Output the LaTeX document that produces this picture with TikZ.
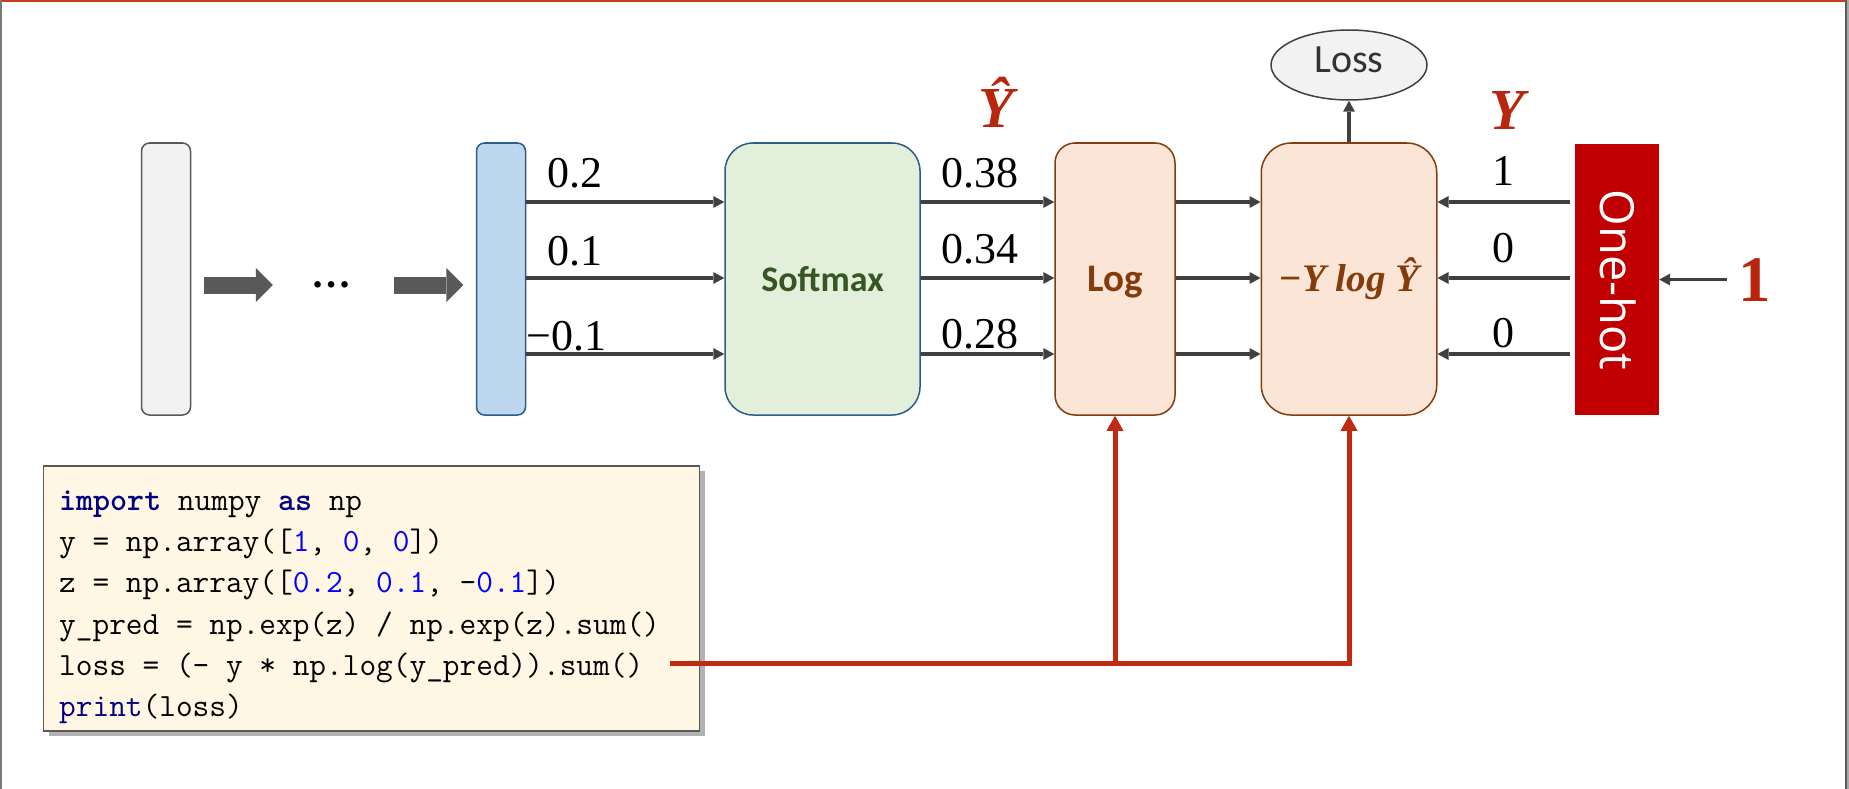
\documentclass[tikz,border=0pt]{standalone}
\usepackage{fontspec}
\usetikzlibrary{arrows.meta,shapes.geometric,shadows}
\newfontfamily\numfont{Liberation Serif}
\newfontfamily\calfont{Carlito}
\newfontfamily\ohfont{Open Sans}
\definecolor{grayfill}{HTML}{F2F2F2}
\definecolor{graydraw}{HTML}{595959}
\definecolor{bluefill}{HTML}{BDD7EE}
\definecolor{bluedraw}{HTML}{2E5C8A}
\definecolor{greenfill}{HTML}{E2EFDA}
\definecolor{greentext}{HTML}{375623}
\definecolor{peachfill}{HTML}{FBE5D6}
\definecolor{browndraw}{HTML}{843C0C}
\definecolor{arrgray}{HTML}{404040}
\definecolor{blockgray}{HTML}{595959}
\definecolor{ohred}{HTML}{C00000}
\definecolor{labred}{HTML}{B8260E}
\definecolor{linered}{HTML}{BE2A12}
\definecolor{codefill}{HTML}{FFF7E4}
\definecolor{kwnavy}{HTML}{000080}
\definecolor{numblue}{HTML}{0000FF}
\definecolor{losstext}{HTML}{333333}
\definecolor{framered}{HTML}{C8401E}
\begin{document}
\begin{tikzpicture}[x=1pt,y=-1pt,
  bar/.style={rectangle,rounded corners=8pt,minimum width=49pt,minimum height=272pt,inner sep=0pt,line width=1.5pt},
  bigbox/.style={rectangle,minimum height=272pt,inner sep=0pt,line width=1.5pt,text height=25pt,text depth=0pt},
  arr/.style={draw=arrgray,line width=3.5pt,-{Triangle[length=11pt,width=12pt,line width=0pt]}},
  blockarr/.style={draw=blockgray,line width=17pt,-{Triangle[length=17pt,width=34pt,line width=0pt]}},
  redarr/.style={draw=linered,line width=5pt,-{Triangle[length=15pt,width=17pt,line width=0pt]}},
  numlab/.style={inner sep=0pt,font=\numfont\fontsize{44pt}{48pt}\selectfont},
  ylab/.style={inner sep=0pt,text=labred,font=\numfont\bfseries\itshape\fontsize{58pt}{62pt}\selectfont},
  codeline/.style={inner sep=0pt,anchor=base west,font=\ttfamily\fontsize{32.4pt}{40pt}\selectfont}
]
\useasboundingbox (0,0) rectangle (1849,789);
% frame
\draw[framered,line width=2pt] (0,1) -- (1849,1);
\draw[graydraw!80,line width=2pt] (1,0) -- (1,789);
\draw[graydraw,line width=2pt] (1846,0) -- (1846,789);
\draw[black!33,line width=2pt] (1848,0) -- (1848,789);

% rows
\coordinate (r1) at (0,202);
\coordinate (r2) at (0,278);
\coordinate (r3) at (0,354);

% bars and boxes
\node[bar,fill=grayfill,draw=graydraw] (gray) at (166,279) {};
\node[bar,fill=bluefill,draw=bluedraw] (blue) at (501,279) {};
\node[inner sep=0pt,font=\numfont\bfseries\fontsize{40pt}{44pt}\selectfont] (dots) at (331,285) {…};
\node[bigbox,fill=greenfill,draw=bluedraw,rounded corners=28pt,minimum width=195pt,
      text=greentext,font=\calfont\bfseries\fontsize{36pt}{40pt}\selectfont] (soft) at (822.5,279) {Softmax};
\node[bigbox,fill=peachfill,draw=browndraw,rounded corners=20pt,minimum width=120pt,
      text=browndraw,font=\calfont\bfseries\fontsize{39pt}{42pt}\selectfont] (log) at (1115,279) {Log};
\node[bigbox,fill=peachfill,draw=browndraw,rounded corners=30pt,minimum width=175.5pt,
      text=browndraw,font=\numfont\bfseries\itshape\fontsize{39pt}{42pt}\selectfont] (ce) at (1349,279) {−Y log Ŷ};
\node[rectangle,fill=ohred,minimum width=84pt,minimum height=271pt,inner sep=0pt] (oh) at (1617,279.5) {};
\node[rotate=-90,inner sep=0pt,text=white,text height=34pt,text depth=0pt,
      font=\ohfont\fontsize{47pt}{50pt}\selectfont] (ohtext) at (1617,280) {One-hot};
\node[ellipse,fill=grayfill,draw=arrgray,line width=1.5pt,minimum width=156pt,minimum height=70pt,inner sep=0pt,
      text=losstext,text height=16pt,text depth=0pt,font=\calfont\fontsize{40pt}{44pt}\selectfont] (loss) at (1349,65) {Loss};

% labels
\node[ylab,anchor=base] (yhat) at (996,128) {Ŷ};
\node[ylab,anchor=base] (ylabel) at (1507,129) {Y};
\node[inner sep=0pt,anchor=base,text=labred,font=\numfont\bfseries\fontsize{65pt}{70pt}\selectfont] (one) at (1755,301) {1};

\node[numlab,anchor=base west] (z1) at (547,187) {0.2};
\node[numlab,anchor=base west] (z2) at (547,265) {0.1};
\node[numlab,anchor=base west] (z3) at (526,350) {−0.1};
\node[numlab,anchor=base west] (p1) at (941,187) {0.38};
\node[numlab,anchor=base west] (p2) at (941,263) {0.34};
\node[numlab,anchor=base west] (p3) at (941,348) {0.28};
\node[numlab,anchor=base] (t1) at (1503,185) {1};
\node[numlab,anchor=base] (t2) at (1503,262) {0};
\node[numlab,anchor=base] (t3) at (1503,347) {0};

% block arrows
\draw[blockarr,shorten <=13pt,shorten >=38pt] (gray.east |- dots) -- (dots.west);
\draw[blockarr,shorten <=43pt,shorten >=12.5pt] (dots.east) -- (blue.west |- dots);

% connectors
\foreach \r in {r1,r2,r3}{
  \draw[arr] (blue.east |- \r) -- (soft.west |- \r);
  \draw[arr] (soft.east |- \r) -- (log.west |- \r);
  \draw[arr] (log.east |- \r) -- (ce.west |- \r);
  \draw[arr,shorten <=5pt] (oh.west |- \r) -- (ce.east |- \r);
}
\draw[arr] (ce.north) -- (loss.south);
\draw[arr,shorten <=12pt] (one.west) -- (oh.east |- one.west);

% code box
\node[rectangle,fill=codefill,draw=graydraw,line width=1.5pt,minimum width=656pt,minimum height=265pt,inner sep=0pt,
      drop shadow={shadow xshift=5pt,shadow yshift=-5pt,opacity=0.3,fill=black}] (code) at (371.5,598.5) {};
\node[codeline] (c1) at (59,510) {{\bfseries\color{kwnavy}import} numpy {\bfseries\color{kwnavy}as} np};
\node[codeline] (c2) at (59,551.3) {y = np.array([{\color{numblue}1}, {\color{numblue}0}, {\color{numblue}0}])};
\node[codeline] (c3) at (59,592.7) {z = np.array([{\color{numblue}0.2}, {\color{numblue}0.1}, -{\color{numblue}0.1}])};
\node[codeline] (c4) at (59,634) {y\_pred = np.exp(z) / np.exp(z).sum()};
\node[codeline] (c5) at (59,675.4) {loss = (- y * np.log(y\_pred)).sum()};
\node[codeline] (c6) at (59,716.7) {{\color{kwnavy}print}(loss)};

% red connectors
\coordinate (c0) at (670,663);
\draw[redarr] (c0) -- (ce.south |- c0) -- (ce.south);
\draw[redarr] (log.south |- c0) -- (log.south);
\end{tikzpicture}
\end{document}
